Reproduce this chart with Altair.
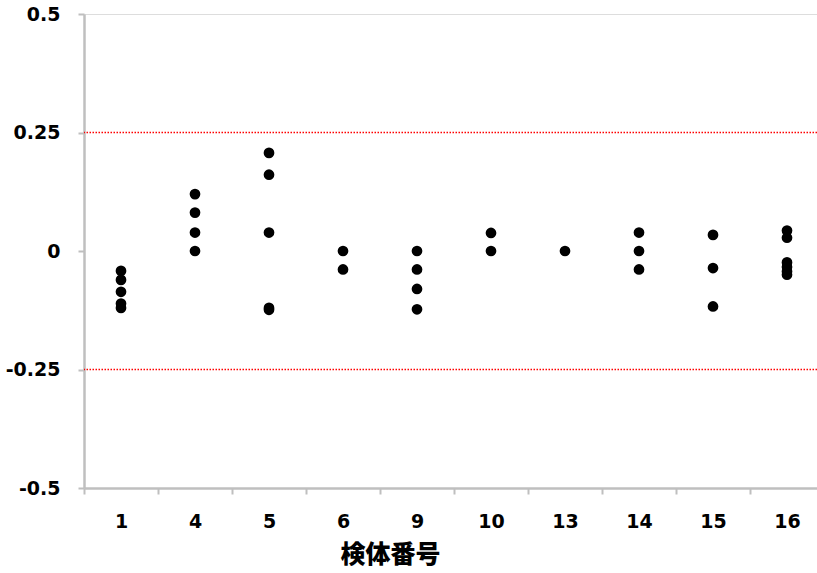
import altair as alt
import pandas as pd

# Specimen numbers on the x axis (categorical, in display order)
specimens = ["1", "4", "5", "6", "9", "10", "13", "14", "15", "16"]

# Measured deviations for each specimen
values_by_specimen = {
    "1": [-0.042, -0.061, -0.086, -0.111, -0.120],
    "4": [0.120, 0.081, 0.039, 0.0],
    "5": [0.207, 0.161, 0.039, -0.120, -0.124],
    "6": [0.0, -0.039],
    "9": [0.0, -0.039, -0.080, -0.123],
    "10": [0.038, 0.0],
    "13": [0.0],
    "14": [0.039, 0.0, -0.039],
    "15": [0.034, -0.036, -0.117],
    "16": [0.043, 0.028, -0.024, -0.034, -0.043, -0.050],
}

# Acceptance limits drawn as dotted red lines
limits = [0.25, -0.25]

# Y axis tick values
y_ticks = [-0.5, -0.25, 0, 0.25, 0.5]

rows = [
    {"specimen": s, "value": v}
    for s in specimens
    for v in values_by_specimen[s]
]
points_df = pd.DataFrame(rows)
limits_df = pd.DataFrame({"limit": limits})

axis_grey = "#bfbfbf"
label_font = "DejaVu Sans"

x_enc = alt.X(
    "specimen:N",
    sort=specimens,
    scale=alt.Scale(domain=specimens, range=[0, 740], paddingInner=0, paddingOuter=0),
    axis=alt.Axis(
        title="検体番号",
        titleFont="Noto Sans CJK JP",
        titleFontSize=25,
        titleFontWeight=900,
        titleColor="black",
        titleX=306,
        titleY=66,
        titleAlign="center",
        titleBaseline="middle",
        labelFont=label_font,
        labelFontSize=19,
        labelFontWeight="bold",
        labelColor="black",
        labelAngle=0,
        labelPadding=18,
        domainColor=axis_grey,
        domainWidth=2.5,
        tickColor=axis_grey,
        tickWidth=2,
        tickSize=6,
        tickBand="extent",
        grid=False,
    ),
)

y_enc = alt.Y(
    "value:Q",
    scale=alt.Scale(domain=[-0.5, 0.5], nice=False, zero=False),
    axis=alt.Axis(
        title=None,
        values=y_ticks,
        labelExpr="'' + datum.value",
        labelFont=label_font,
        labelFontSize=19,
        labelFontWeight="bold",
        labelColor="black",
        labelPadding=18,
        domainColor=axis_grey,
        domainWidth=2.5,
        tickColor=axis_grey,
        tickWidth=2,
        tickSize=6,
        grid=False,
    ),
)

points = alt.Chart(points_df).mark_circle(
    size=115, color="black", opacity=1
).encode(x=x_enc, y=y_enc)

limit_lines = alt.Chart(limits_df).mark_rule(
    color="#ff0000", strokeWidth=1.5, strokeDash=[1.5, 1.5]
).encode(y=alt.Y("limit:Q"))

chart = (
    alt.layer(limit_lines, points)
    .properties(
        width=733,
        height=474,
        autosize=alt.AutoSizeParams(type="none"),
        padding={"left": 84, "top": 14, "right": 0, "bottom": 85},
    )
    .configure_view(stroke=None)
    .configure(background="white")
)

chart.save("out.html", embed_options={"renderer": "svg", "actions": False})
